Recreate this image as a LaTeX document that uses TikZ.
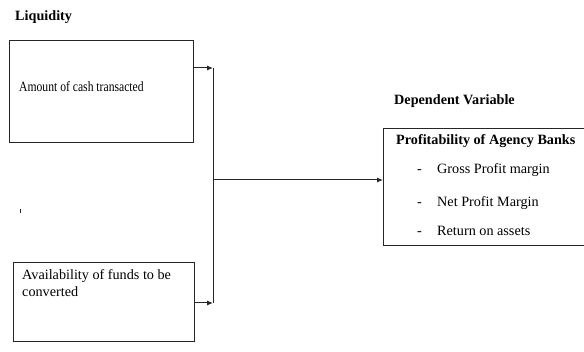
\documentclass[tikz,border=0pt]{standalone}
\usepackage{fontspec}
\setmainfont{Liberation Serif}
\usetikzlibrary{arrows.meta,calc}
\begin{document}
\begin{tikzpicture}[x=1pt,y=-1pt,
  box/.style={draw=black!85,line width=1pt,inner sep=0pt,anchor=north west},
  txt/.style={anchor=base west,inner sep=0pt,font=\fontsize{14.2}{16}\selectfont},
  hd/.style={txt,font=\fontsize{14.2}{16}\selectfont\bfseries},
  conn/.style={draw=black!85,line width=1pt},
  arr/.style={conn,-{Latex[length=6pt,width=5pt]}}]
\useasboundingbox (0,0) rectangle (584,352);
\clip (0,0) rectangle (584,352);
% boxes
\node[box,minimum width=184pt,minimum height=102pt] (b1) at (9,40) {};
\node[box,minimum width=181pt,minimum height=79pt] (b2) at (13,262) {};
\node[box,minimum width=220pt,minimum height=117pt] (b3) at (383,128) {};
% texts
\node[hd] (liq) at (15,21) {Liquidity};
\node[txt] (t1) at (19,92) {\scalebox{0.82}[1]{Amount of cash transacted}};
\node[txt] (t2a) at (22,280) {Availability of funds to be};
\node[txt] (t2b) at (22,297) {converted};
\node[hd] (dv) at (394,105) {Dependent Variable};
\node[hd] (pab) at (396,145) {Profitability of Agency Banks};
\node[txt] (d1) at (417,174) {-};
\node[txt] (i1) at (437,174) {Gross Profit margin};
\node[txt] (d2) at (417,207) {-};
\node[txt] (i2) at (437,207) {Net Profit Margin};
\node[txt] (d3) at (417,236) {-};
\node[txt] (i3) at (437,236) {Return on assets};
% stray tick
\draw[black!85,line width=0.8pt] (20.5,209) -- (20.5,213);
% connectors
\coordinate (j1) at (213,68);
\coordinate (j2) at (213,303);
\coordinate (jm) at (213,180);
\draw[arr] (b1.east |- j1) -- (j1);
\draw[arr] (b2.east |- j2) -- (j2);
\draw[conn] (j1) -- (j2);
\draw[arr] (jm) -- (b3.west |- jm);
\end{tikzpicture}
\end{document}
